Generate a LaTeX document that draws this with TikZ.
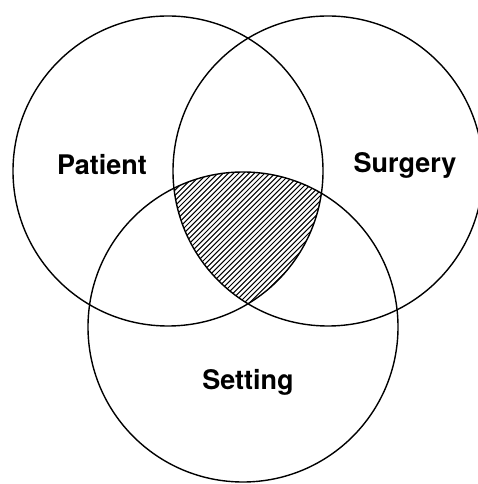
\documentclass[tikz,border=0pt]{standalone}
\usepackage{fontspec}
\setmainfont{TeX Gyre Heros}
\begin{document}
\begin{tikzpicture}[
    x=1pt, y=1pt,
    line width=1.4pt,
    setlabel/.style={font=\fontsize{27}{32}\selectfont\bfseries, inner sep=0pt},
    hatch/.style={line width=1pt},
  ]
  \useasboundingbox (0,0) rectangle (478,484);
  \def\r{155pt}

  % centres of the three circles
  \coordinate (cPat) at (168,313);
  \coordinate (cSur) at (328,313);
  \coordinate (cSet) at (243,157);

  % The common part of all three, hatched
  \begin{scope}
    \clip (cPat) circle[radius=\r];
    \clip (cSur) circle[radius=\r];
    \clip (cSet) circle[radius=\r];
    \foreach \c in {-150,-144.8,...,150}
      \draw[hatch] (\c+150,150) -- (\c+350,350);
  \end{scope}

  % The three circles
  \draw (cPat) circle[radius=\r];
  \draw (cSur) circle[radius=\r];
  \draw (cSet) circle[radius=\r];

  % Labels
  \node[setlabel] (patient) at (102,319) {Patient};
  \node[setlabel] (surgery) at (405,319) {Surgery};
  \node[setlabel] (setting) at (248,102) {Setting};
\end{tikzpicture}
\end{document}
